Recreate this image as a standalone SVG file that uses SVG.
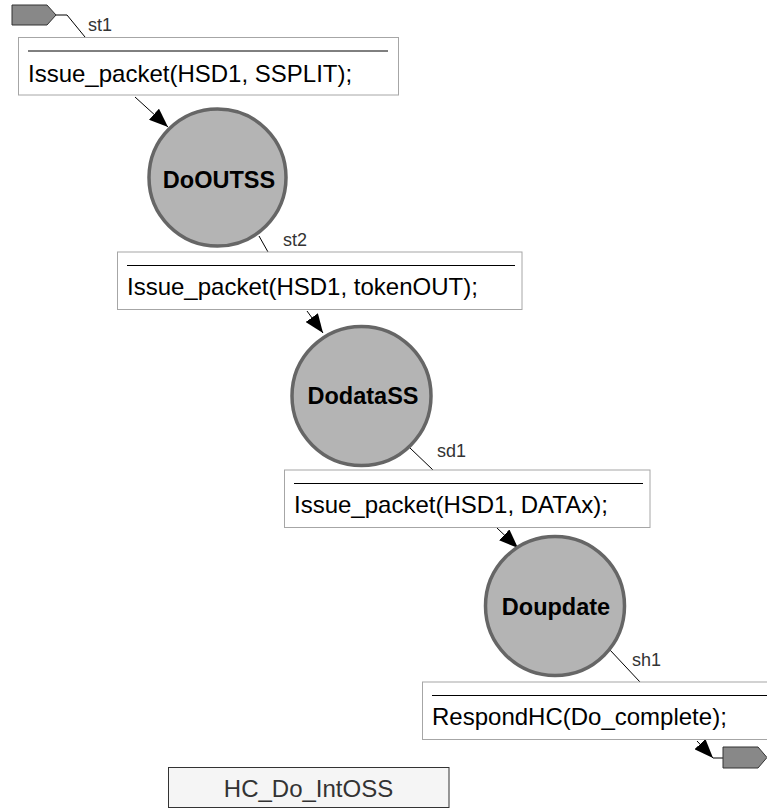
<svg xmlns="http://www.w3.org/2000/svg" width="767" height="808" viewBox="0 0 767 808">
<style>
.box{fill:#ffffff;stroke:#a6a6a6;stroke-width:1}
.sep{stroke:#000000;stroke-width:1}
.act{font-family:"Liberation Sans",Arial,sans-serif;font-size:24px;fill:#000000}
.state{fill:#b4b4b4;stroke:#666666;stroke-width:3.5}
.sname{font-family:"Liberation Sans",Arial,sans-serif;font-size:23.5px;font-weight:bold;fill:#000000;text-anchor:middle}
.lbl{font-family:"Liberation Sans",Arial,sans-serif;font-size:18px;fill:#333333}
.conn{stroke:#000000;stroke-width:1;fill:none}
.port{fill:#888888;stroke:#333333;stroke-width:1}
.title{fill:#f5f5f5;stroke:#333333;stroke-width:1}
.ttext{font-family:"Liberation Sans",Arial,sans-serif;font-size:24px;fill:#333333;text-anchor:middle}
</style>
<defs>
<marker id="arr" markerUnits="userSpaceOnUse" markerWidth="20" markerHeight="15" viewBox="0 0 20 15" refX="19" refY="7.5" orient="auto">
<path d="M0,0 L19,7.5 L0,15 Z" fill="#000000"/>
</marker>
</defs>
<g id="connectors">
<polyline class="conn" points="55,15 67,15 85,37"/>
<line class="conn" x1="135" y1="97" x2="168" y2="127" marker-end="url(#arr)"/>
<line class="conn" x1="259" y1="236" x2="268" y2="252"/>
<line class="conn" x1="307" y1="311" x2="323" y2="333" marker-end="url(#arr)"/>
<line class="conn" x1="410" y1="448" x2="433" y2="470"/>
<line class="conn" x1="497" y1="528" x2="518" y2="548" marker-end="url(#arr)"/>
<line class="conn" x1="610" y1="650" x2="640" y2="682"/>
<line class="conn" x1="697" y1="741" x2="713" y2="758" marker-end="url(#arr)"/>
<line class="conn" x1="713" y1="758" x2="723" y2="758"/>
<text class="lbl" x="88" y="31">st1</text>
<text class="lbl" x="283" y="246">st2</text>
<text class="lbl" x="437" y="457">sd1</text>
<text class="lbl" x="632" y="666">sh1</text>
</g>
<g id="start">
<path class="port" d="M12,5 L47,5 L56,15 L47,25 L12,25 Z"/>
</g>
<g id="action1">
<rect class="box" x="18.5" y="37.5" width="380" height="57.5"/>
<line class="sep" x1="28" y1="51" x2="388" y2="51"/>
<text class="act" x="28" y="82">Issue_packet(HSD1, SSPLIT);</text>
</g>
<g id="DoOUTSS">
<circle class="state" cx="217.5" cy="177.5" r="68.5"/>
<text class="sname" x="219" y="188">DoOUTSS</text>
</g>
<g id="action2">
<rect class="box" x="117.5" y="252" width="404.5" height="57.5"/>
<line class="sep" x1="127" y1="265.5" x2="515" y2="265.5"/>
<text class="act" x="127" y="295">Issue_packet(HSD1, tokenOUT);</text>
</g>
<g id="DodataSS">
<circle class="state" cx="361.5" cy="396" r="69.5"/>
<text class="sname" x="363" y="404">DodataSS</text>
</g>
<g id="action3">
<rect class="box" x="284.5" y="470" width="365.5" height="57.5"/>
<line class="sep" x1="294" y1="483.5" x2="643" y2="483.5"/>
<text class="act" x="294" y="513">Issue_packet(HSD1, DATAx);</text>
</g>
<g id="Doupdate">
<circle class="state" cx="555" cy="606" r="69.5"/>
<text class="sname" x="556" y="615">Doupdate</text>
</g>
<g id="action4">
<rect class="box" x="422.5" y="682" width="350" height="57.5"/>
<line class="sep" x1="432" y1="695.5" x2="767" y2="695.5"/>
<text class="act" x="432" y="725">RespondHC(Do_complete);</text>
</g>
<g id="end">
<path class="port" d="M723,747 L758,747 L767,757.5 L758,768 L723,768 Z"/>
</g>
<g id="title">
<rect class="title" x="168.5" y="767.5" width="280.5" height="40"/>
<text class="ttext" x="308.5" y="797">HC_Do_IntOSS</text>
</g>
</svg>
